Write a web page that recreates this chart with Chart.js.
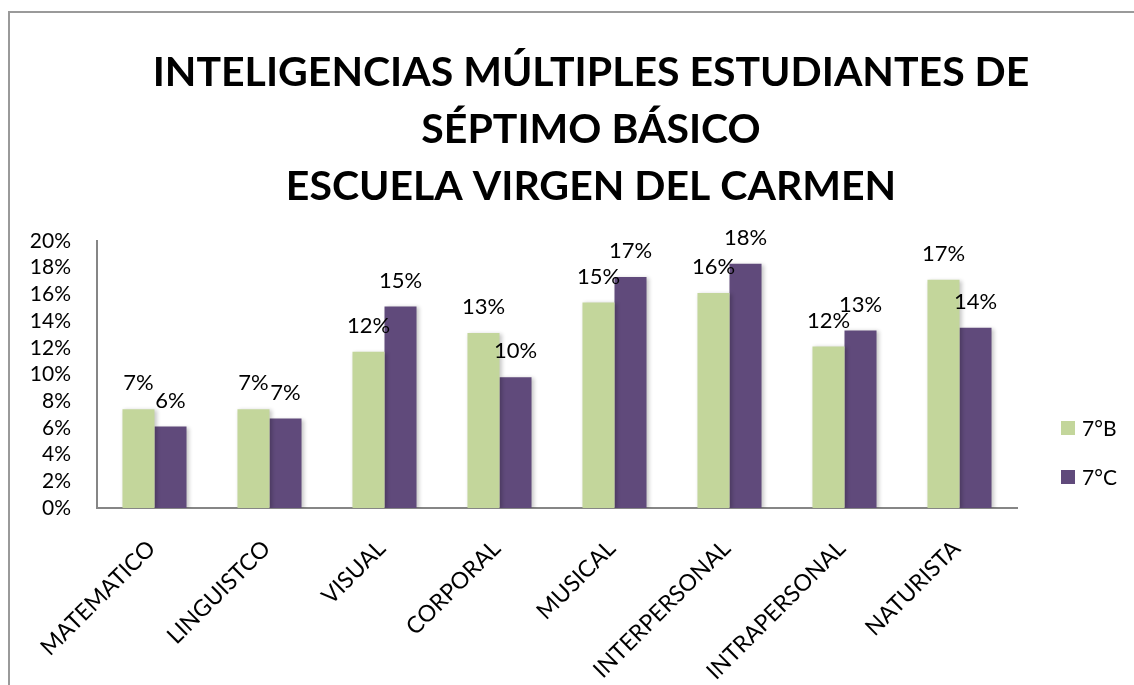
<!DOCTYPE html>
<html>
<head>
<meta charset="utf-8">
<script src="https://cdn.jsdelivr.net/npm/chart.js@4.4.0/dist/chart.umd.min.js"></script>
<style>
  body { margin: 0; background: #fff; }
  #wrap { position: relative; width: 1134px; height: 685px; overflow: hidden; }
  #frame { position: absolute; left: 8px; top: 11px; width: 1200px; height: 800px;
           border-left: 2px solid #9a9a9a; border-top: 2px solid #9a9a9a; pointer-events: none; }
  canvas { position: absolute; left: 0; top: 0; }
</style>
</head>
<body>
<div id="wrap">
  <canvas id="chart" width="1134" height="685"></canvas>
  <div id="frame"></div>
</div>
<script>
const categories = ['MATEMATICO', 'LINGUISTCO', 'VISUAL', 'CORPORAL', 'MUSICAL', 'INTERPERSONAL', 'INTRAPERSONAL', 'NATURISTA'];
const seriesNames = ['7°B', '7°C'];
const seriesColors = ['#C3D69B', '#604A7B'];
const values7B = [7.4, 7.4, 11.7, 13.1, 15.4, 16.1, 12.1, 17.1];
const values7C = [6.1, 6.7, 15.1, 9.8, 17.3, 18.3, 13.3, 13.5];
const yTicks = [0, 2, 4, 6, 8, 10, 12, 14, 16, 18, 20];
const titleLines = ['INTELIGENCIAS MÚLTIPLES ESTUDIANTES DE', 'SÉPTIMO BÁSICO', 'ESCUELA VIRGEN DEL CARMEN'];

const FONT = 'Lato, "Open Sans", sans-serif';

// título centrado sobre todo el gráfico (como en Excel, no sobre el área de trazado)
const chartTitle = {
  id: 'chartTitle',
  afterDraw(chart) {
    const ctx = chart.ctx;
    ctx.save();
    ctx.font = 'bold 41px ' + FONT;
    ctx.fillStyle = '#000';
    ctx.textAlign = 'center';
    ctx.textBaseline = 'middle';
    titleLines.forEach((line, i) => ctx.fillText(line, 591, 73 + i * 57));
    ctx.restore();
  }
};

// leyenda a la derecha, a media altura del bloque inferior
const sideLegend = {
  id: 'sideLegend',
  afterDraw(chart) {
    const ctx = chart.ctx;
    const x = chart.chartArea.right + 44;
    ctx.save();
    ctx.font = '21px ' + FONT;
    ctx.textBaseline = 'middle';
    chart.data.datasets.forEach((ds, i) => {
      const y = 428 + i * 49;
      ctx.fillStyle = ds.backgroundColor;
      ctx.fillRect(x, y - 7, 14, 14);
      ctx.fillStyle = '#000';
      ctx.fillText(ds.label, x + 21, y + 1);
    });
    ctx.restore();
  }
};

// etiquetas de valor encima de cada barra
const valueLabels = {
  id: 'valueLabels',
  afterDatasetsDraw(chart) {
    const ctx = chart.ctx;
    ctx.save();
    ctx.font = '22px ' + FONT;
    ctx.fillStyle = '#000';
    ctx.textAlign = 'center';
    ctx.textBaseline = 'middle';
    chart.data.datasets.forEach((ds, i) => {
      chart.getDatasetMeta(i).data.forEach((bar, j) => {
        ctx.fillText(Math.round(ds.data[j]) + '%', bar.x, bar.y - 26);
      });
    });
    ctx.restore();
  }
};

// sombra suave de las barras
const barShadow = {
  id: 'barShadow',
  beforeDatasetsDraw(chart) {
    const ctx = chart.ctx;
    ctx.save();
    ctx.shadowColor = 'rgba(0,0,0,0.22)';
    ctx.shadowBlur = 4;
    ctx.shadowOffsetX = 2;
    ctx.shadowOffsetY = 1;
  },
  afterDatasetsDraw(chart) {
    chart.ctx.restore();
  }
};

new Chart(document.getElementById('chart').getContext('2d'), {
  type: 'bar',
  data: {
    labels: categories,
    datasets: [
      { label: seriesNames[0], data: values7B, backgroundColor: seriesColors[0] },
      { label: seriesNames[1], data: values7C, backgroundColor: seriesColors[1] }
    ]
  },
  options: {
    responsive: false,
    animation: false,
    layout: { padding: { left: 0, right: 117, top: 241, bottom: 0 } },
    datasets: { bar: { categoryPercentage: 0.557, barPercentage: 1.0 } },
    plugins: {
      title: { display: false },
      legend: { display: false },
      tooltip: { enabled: false }
    },
    scales: {
      x: {
        grid: { display: false, drawTicks: false },
        border: { color: '#868686', width: 2 },
        ticks: { color: '#000', font: { family: FONT, size: 23 }, minRotation: 45, maxRotation: 45,
                 padding: 27, labelOffset: -3, autoSkip: false },
        afterFit(scale) { scale.height = 177; }
      },
      y: {
        min: 0,
        max: 20,
        afterBuildTicks(scale) { scale.ticks = yTicks.map(v => ({ value: v })); },
        grid: { display: false, drawTicks: false },
        border: { color: '#868686', width: 2 },
        ticks: { color: '#000', font: { family: FONT, size: 21 }, padding: 26, autoSkip: false,
                 callback: v => v + '%' },
        afterFit(scale) { scale.width = 97; }
      }
    }
  },
  plugins: [barShadow, valueLabels, chartTitle, sideLegend]
});
</script>
</body>
</html>
